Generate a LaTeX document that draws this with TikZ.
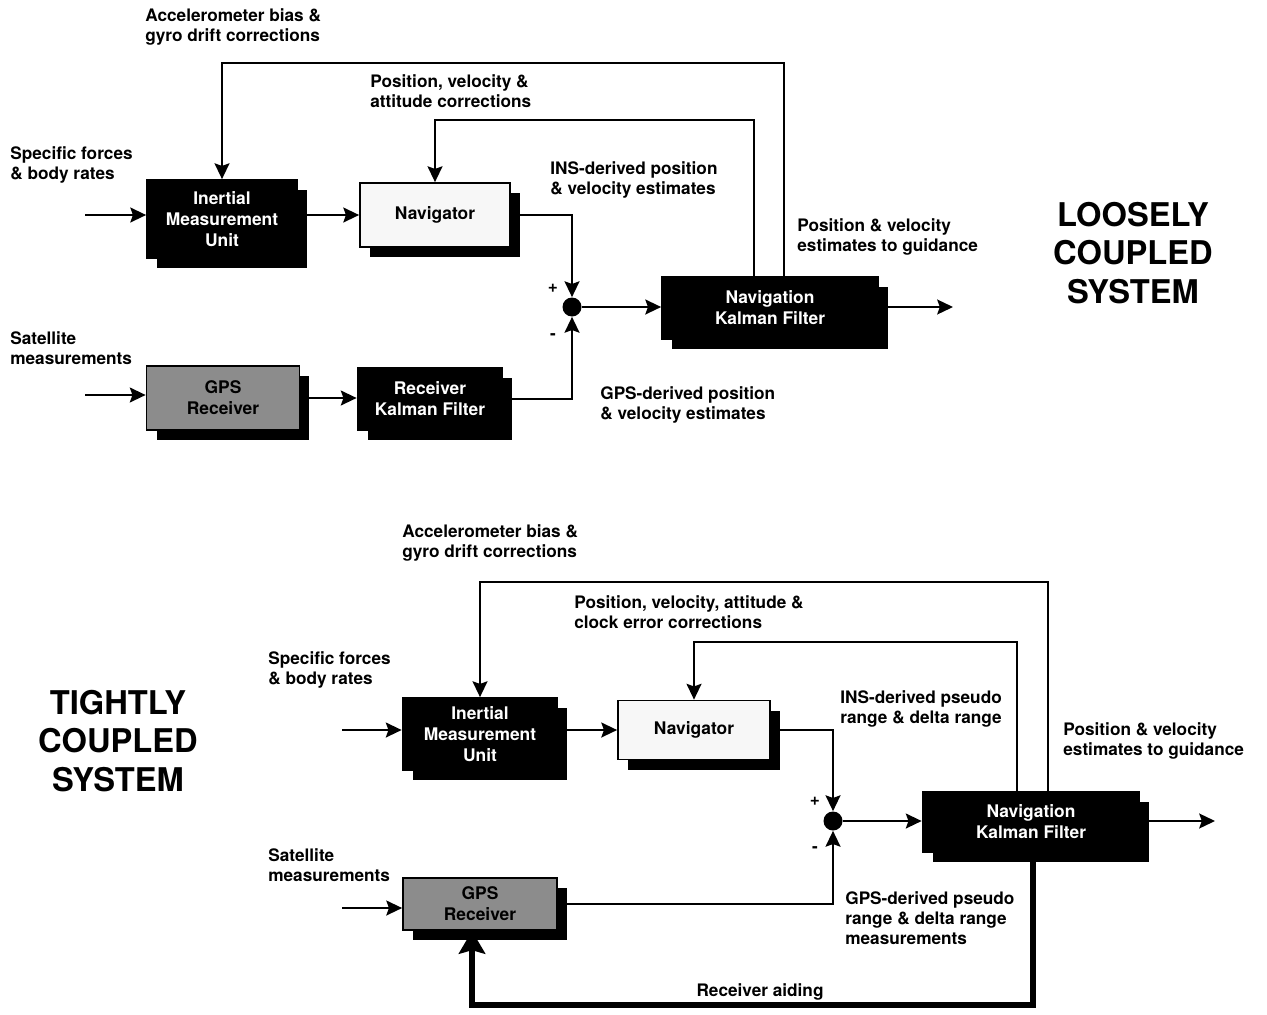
\documentclass[tikz,border=0pt]{standalone}
\usepackage{fontspec}
\setmainfont{TeX Gyre Heros}
\usetikzlibrary{arrows.meta,shadows}
\newcommand{\lblfont}{\fontsize{9.8}{11.4}\selectfont\bfseries}
\newcommand{\boxfont}{\fontsize{9.9}{11.9}\selectfont\bfseries}
\newcommand{\titlefont}{\fontsize{18.6}{22}\selectfont\bfseries}
\tikzset{>={Stealth[length=9pt,width=8.5pt,inset=1.5pt]}}
\tikzset{
  unitbox/.style={rectangle, draw=black, line width=1pt, font=\boxfont, align=center, inner sep=0pt,
    drop shadow={shadow xshift=0.2cm, shadow yshift=-0.2cm, fill=black, opacity=1}},
  darkbox/.style={unitbox, fill=black, text=white},
  lightbox/.style={unitbox, fill=gray!6, text=black},
  gpsbox/.style={unitbox, fill=black!45, text=black},
  junction/.style={circle, fill=black, inner sep=0pt, minimum size=0.38cm},
  lbl/.style={font=\lblfont, align=left, inner sep=0pt, anchor=west},
  sign/.style={font=\lblfont, inner sep=0pt},
  title/.style={font=\titlefont, align=center, inner sep=0pt},
  flow/.style={->, line width=1.2pt},
  aiding/.style={-{Stealth[length=13pt,width=15pt,inset=2pt]}, line width=3.6pt}
}
\begin{document}
\begin{tikzpicture}[x=0.02cm, y=-0.02cm]
    \useasboundingbox (0,0) rectangle (1267,1014);

    \node [darkbox, minimum width=3cm, minimum height=1.56cm] (imuA) at (222,219) {Inertial\\Measurement\\Unit};
    \node [lightbox, minimum width=3cm, minimum height=1.28cm] (navA) at (435,215) {Navigator};
    \node [gpsbox, minimum width=3.06cm, minimum height=1.28cm] (gpsA) at (223,398) {GPS\\Receiver};
    \node [darkbox, minimum width=2.9cm, minimum height=1.24cm] (rkfA) at (430,399) {Receiver\\Kalman Filter};
    \node [darkbox, minimum width=4.32cm, minimum height=1.26cm] (nkfA) at (770,308) {Navigation\\Kalman Filter};
    \node [junction] (sumA) at (572,307) {};

    \coordinate (inA1) at (85,215);
    \coordinate (inA2) at (85,395);
    \coordinate (outA) at (953,307);
    \coordinate (fbA1) at (784,63);
    \coordinate (fbA2) at (754,120);

    \draw [flow] (inA1) -- (inA1 -| imuA.west);
    \draw [flow] (imuA.east |- navA) -- (navA.west);
    \draw [flow] (navA.east) -| (sumA.north);
    \draw [flow] (inA2) -- (inA2 -| gpsA.west);
    \draw [flow] (gpsA.east) -- (gpsA.east -| rkfA.west);
    \draw [flow] (rkfA.east) -| (sumA.south);
    \draw [flow] (sumA.east) -- (sumA.east -| nkfA.west);
    \draw [flow] (nkfA.east |- outA) -- (outA);
    \draw [flow] (nkfA.north -| fbA1) -- (fbA1) -| (imuA.north);
    \draw [flow] (nkfA.north -| fbA2) -- (fbA2) -| (navA.north);

    \node [lbl] (accA) at (145,27) {Accelerometer bias \&\\gyro drift corrections};
    \node [lbl] (corA) at (370,91) {Position, velocity \&\\attitude corrections};
    \node [lbl] (sfA) at (10,165) {Specific forces\\\& body rates};
    \node [lbl] (insA) at (550,180) {INS-derived position\\\& velocity estimates};
    \node [lbl] (guideA) at (797,237) {Position \& velocity\\estimates to guidance};
    \node [lbl] (satA) at (10,348) {Satellite\\measurements};
    \node [lbl] (gpslblA) at (600,405) {GPS-derived position\\\& velocity estimates};
    \node [sign] (plusA) at (553,288) {+};
    \node [sign] (minusA) at (553,337) {-};
    \node [title] (titleA) at (1133,253) {LOOSELY\\COUPLED\\SYSTEM};

    \node [darkbox, minimum width=3.1cm, minimum height=1.44cm] (imuB) at (480,734) {Inertial\\Measurement\\Unit};
    \node [lightbox, minimum width=3.04cm, minimum height=1.18cm] (navB) at (694,730) {Navigator};
    \node [gpsbox, minimum width=3.08cm, minimum height=1.04cm] (gpsB) at (480,904) {GPS\\Receiver};
    \node [darkbox, minimum width=4.34cm, minimum height=1.2cm] (nkfB) at (1031,822) {Navigation\\Kalman Filter};
    \node [junction] (sumB) at (833,821) {};

    \coordinate (inB1) at (342,730);
    \coordinate (inB2) at (342,908);
    \coordinate (outB) at (1215,821);
    \coordinate (fbB1) at (1048,582);
    \coordinate (fbB2) at (1017,642);
    \coordinate (aidB) at (1033,1005);

    \draw [flow] (inB1) -- (inB1 -| imuB.west);
    \draw [flow] (imuB.east |- navB) -- (navB.west);
    \draw [flow] (navB.east) -| (sumB.north);
    \draw [flow] (inB2) -- (inB2 -| gpsB.west);
    \draw [flow] (gpsB.east) -| (sumB.south);
    \draw [flow] (sumB.east) -- (sumB.east -| nkfB.west);
    \draw [flow] (nkfB.east |- outB) -- (outB);
    \draw [flow] (nkfB.north -| fbB1) -- (fbB1) -| (imuB.north);
    \draw [flow] (nkfB.north -| fbB2) -- (fbB2) -| (navB.north);
    \draw [aiding] (nkfB.south -| aidB) -- (aidB) -| ([xshift=-0.16cm]gpsB.south);

    \node [lbl] (accB) at (402,543) {Accelerometer bias \&\\gyro drift corrections};
    \node [lbl] (corB) at (574,612) {Position, velocity, attitude \&\\clock error corrections};
    \node [lbl] (sfB) at (268,670) {Specific forces\\\& body rates};
    \node [lbl] (insB) at (840,709) {INS-derived pseudo\\range \& delta range};
    \node [lbl] (guideB) at (1063,741) {Position \& velocity\\estimates to guidance};
    \node [lbl] (satB) at (268,865) {Satellite\\measurements};
    \node [lbl] (gpslblB) at (845,918) {GPS-derived pseudo\\range \& delta range\\measurements};
    \node [sign] (plusB) at (815,801) {+};
    \node [sign] (minusB) at (815,850) {-};
    \node [font=\lblfont, inner sep=0pt] (aidlbl) at (760,992) {Receiver aiding};
    \node [title] (titleB) at (118,741) {TIGHTLY\\COUPLED\\SYSTEM};
\end{tikzpicture}
\end{document}
